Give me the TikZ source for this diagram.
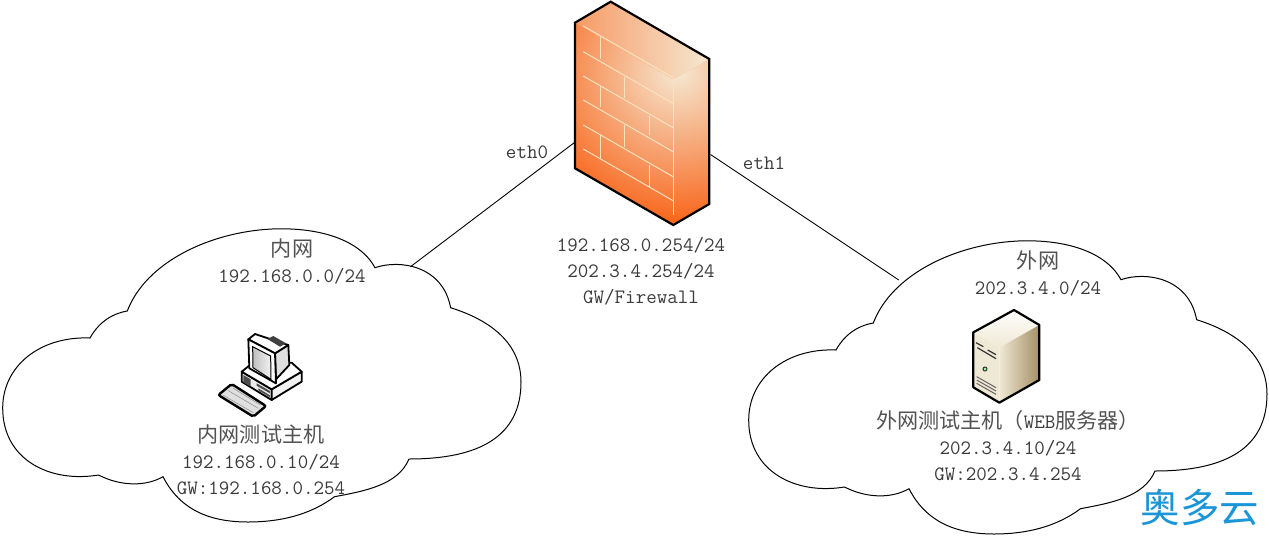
\documentclass[tikz,border=0pt]{standalone}
\usepackage{fontspec}
\newfontfamily\cjk[Scale=1.035]{Noto Sans CJK SC}
\newfontfamily\logofont{Noto Sans CJK SC}
\definecolor{labelgray}{HTML}{3A3A3A}
\definecolor{wallorange}{HTML}{F8661C}
\definecolor{wallcream}{HTML}{F5E8D2}
\definecolor{brickline}{HTML}{FBE3C0}
\definecolor{servercream}{HTML}{EFE8D4}
\definecolor{servertan}{HTML}{A58F66}
\definecolor{logoblue}{HTML}{1A95D8}
\tikzset{
    cloudline/.style={draw=black, line width=1pt, line join=miter},
    wireline/.style={draw=black, line width=0.9pt},
    netlabel/.style={font=\fontsize{20.4}{26}\selectfont\ttfamily, text=labelgray, align=center, inner sep=0pt},
    brick/.style={draw=brickline, line width=1pt},
    iconedge/.style={draw=black, line width=1.8pt, line join=round},
    cloudshape/.pic={
        \draw[cloudline] (127.3,311)
            .. controls (146,262) and (210,232) .. (272,229)
            .. controls (320,227) and (360,240) .. (375,267.7)
            .. controls (400,259) and (443,266) .. (450.6,307.7)
            .. controls (490,320) and (521,343) .. (521,382)
            .. controls (521,436) and (480,459) .. (409,459)
            .. controls (398,485) and (365,491) .. (334.5,496.7)
            .. controls (310,515) and (280,522) .. (248,522)
            .. controls (210,522) and (180,510) .. (163,476.7)
            .. controls (145,487) and (120,486) .. (98.5,475)
            .. controls (50,483) and (2.7,460) .. (2.7,408)
            .. controls (2.7,366) and (40,336) .. (90,338)
            .. controls (100,320) and (115,313) .. (127.3,311) -- cycle;
    }
}
\newcommand{\zh}[1]{{\color{black!68}\cjk #1}}
\begin{document}
\begin{tikzpicture}[x=1pt, y=-1pt]
    \useasboundingbox (0,0) rectangle (1269,536);
    \pic at (0,0) {cloudshape};
    \pic at (746,12) {cloudshape};

    \begin{scope}
        \clip (575,22.7) -- (673.3,79.3) -- (709.3,59) -- (709.3,204) -- (673.3,225) -- (575,168.3) -- cycle;
        \fill[wallorange] (570,0) rectangle (715,230);
        \shade[inner color=wallcream, outer color=wallorange] (678,72) circle (150);
    \end{scope}
    \shade[left color=wallorange!60!wallcream, right color=wallcream] (575,22.7) -- (610.7,1.7) -- (709.3,59) -- (673.3,79.3) -- cycle;
    \foreach \yb in {26,51.7,76,100,125,149}
        \draw[brick] (583.3,\yb) -- ++(90,51.8);
    \foreach \xb/\ya/\yb in {600/37.3/59.3, 624/76.7/98.3, 600/86/107.3, 649.3/115.7/135, 624/125/146.7, 600/135/158.3, 649.3/165/186.7}
        \draw[brick] (\xb,\ya) -- (\xb,\yb);
    \draw[brick] (673.3,79.3) -- (673.3,215);
    \draw[black, line width=2.2pt, line join=miter] (575,22.7) -- (610.7,1.7) -- (709.3,59) -- (709.3,204) -- (673.3,225) -- (575,168.3) -- cycle;

    \coordinate (fwl) at (574.5,142.5);
    \coordinate (fwr) at (710.5,154.5);
    \coordinate (inet) at (410.5,266.7);
    \coordinate (onet) at (898.8,280);
    \draw[wireline] (fwl) -- (inet);
    \draw[wireline] (fwr) -- (onet);

    \begin{scope}[shift={(160,320)}, scale=1/3]
        \filldraw[iconedge, fill=black!8] (245,155) -- (335,208) -- (335,240) -- (245,185) -- cycle;
        \filldraw[iconedge, fill=black!5] (335,208) -- (425,155) -- (425,185) -- (335,240) -- cycle;
        \filldraw[iconedge, fill=white] (245,155) -- (270,135) -- (395,128) -- (425,155) -- (335,208) -- cycle;
        \fill[black!70] (250,165) -- (272,178) -- (272,200) -- (250,187) -- cycle;
        \fill[black!70] (290,190) -- (330,213) -- (330,220) -- (290,197) -- cycle;
        \fill[black!70] (295,205) -- (330,226) -- (330,232) -- (295,211) -- cycle;
        \filldraw[iconedge, fill=black!12] (345,100) -- (385,75) -- (388,135) -- (348,178) -- cycle;
        \filldraw[iconedge, fill=white] (265,58) -- (285,42) -- (385,75) -- (345,100) -- cycle;
        \fill[black!75] (322,57) -- (340,48) -- (378,70) -- (360,80) -- cycle;
        \filldraw[iconedge, fill=white] (265,58) -- (345,100) -- (348,190) -- (268,145) -- cycle;
        \shade[draw=black, line width=1pt, left color=black!25, right color=black!5] (278,80) -- (332,108) -- (333,178) -- (279,143) -- cycle;
        \filldraw[line width=2.4pt, draw=black, fill=black!12, rounded corners=2pt] (175,225) -- (215,192) -- (318,258) -- (280,290) -- cycle;
        \draw[black!45, line width=0.5pt] (190,226) -- (280,278) (205,212) -- (295,265) (220,205) -- (302,255);
    \end{scope}

    \begin{scope}[shift={(940,300)}, scale=1/3]
        \shade[top color=white, bottom color=servercream] (100,97) -- (222,30) -- (298,75) -- (178,143) -- cycle;
        \shade[left color=servercream, right color=servertan] (178,143) -- (298,75) -- (298,240) -- (178,308) -- cycle;
        \fill[servercream] (100,97) -- (178,143) -- (178,308) -- (100,262) -- cycle;
        \draw[iconedge, line width=2.2pt] (100,97) -- (222,30) -- (298,75) -- (298,240) -- (178,308) -- (100,262) -- cycle;
        \draw[black!80, line width=1.2pt] (108,128) -- (130,140) (143,150) -- (168,164) (112,143) -- (168,176);
        \draw[black!60, line width=1pt] (110,240) -- (168,273) (110,250) -- (168,283) (110,230) -- (168,263);
        \filldraw[draw=black!80, fill=black!15!green!40, line width=1pt] (135,207) circle (6);
    \end{scope}

    \node[netlabel] (fw) at (641,271) {192.168.0.254/24\\202.3.4.254/24\\GW/Firewall};
    \node[netlabel] (eth0) at (527,152) {eth0};
    \node[netlabel] (eth1) at (764,163) {eth1};
    \node[netlabel] (inlan) at (292,261) {\zh{内网}\\192.168.0.0/24};
    \node[netlabel] (outlan) at (1038,273) {\zh{外网}\\202.3.4.0/24};
    \node[netlabel] (inhost) at (261,459.5) {\zh{内网测试主机}\\192.168.0.10/24\\GW:192.168.0.254};
    \node[netlabel] (outhost) at (1008,446) {\zh{外网测试主机（}WEB\zh{服务器）}\\202.3.4.10/24\\GW:202.3.4.254};
    \node[inner sep=0pt, text=logoblue, font=\fontsize{39.5}{39.5}\selectfont\logofont] (logo) at (1200,507) {奥多云};
\end{tikzpicture}
\end{document}
